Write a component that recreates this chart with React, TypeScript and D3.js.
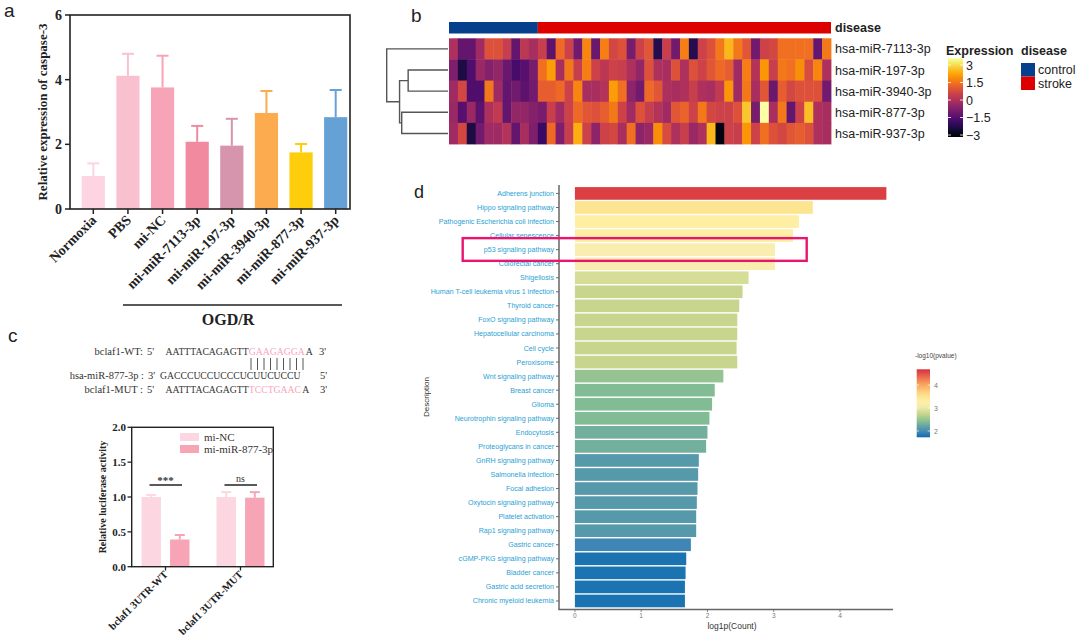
import React from 'react';
import * as d3 from 'd3';

const SERIF = '"Liberation Serif", "Times New Roman", serif';
const SANS = '"Liberation Sans", Arial, sans-serif';

// ---------- Panel a ----------
const caspCategories = ['Normoxia', 'PBS', 'mi-NC', 'mi-miR-7113-3p', 'mi-miR-197-3p', 'mi-miR-3940-3p', 'mi-miR-877-3p', 'mi-miR-937-3p'];
const caspMeans = [1.02, 4.12, 3.76, 2.08, 1.96, 2.97, 1.75, 2.84];
const caspErrTops = [1.41, 4.8, 4.74, 2.57, 2.79, 3.65, 2.01, 3.68];
const caspColors = ['#fdd5e2', '#f9c1d0', '#f7a4b8', '#f28a9f', '#d794ad', '#fcab4f', '#fecd0b', '#65a1d5'];
const caspTicks = [0, 2, 4, 6];

// ---------- Panel b ----------
const hmRows = ['hsa-miR-7113-3p', 'hsa-miR-197-3p', 'hsa-miR-3940-3p', 'hsa-miR-877-3p', 'hsa-miR-937-3p'];
const diseaseGroups = ['control', 'stroke'];
const diseaseCounts = [10, 33];
const diseaseColors = ['#063f8c', '#dd0000'];
const hmValues = [
  [-0.2, -1.3, -1.3, -0.4, 0.6, 0.6, 0.2, -1.3, 0.0, -0.3,
    0.2, -1.4, 1.0, 0.3, -1.1, 1.4, -1.2, 1.3, 0.4, 0.6, -1.0, 0.3, 0.7, -2.2, 0.2, -1.1, 1.3, -2.2, 0.3, 0.6, 1.2, 2.0, 1.2, 0.7, -1.1, 0.3, 0.4, 1.1, 1.1, 1.1, 1.1, -1.3, 1.2],
  [-0.9, -2.3, -1.6, -0.5, -0.8, -0.6, -1.2, -1.7, -1.5, -1.0,
    1.1, 1.7, -0.3, 1.2, 0.2, 1.3, 0.3, 0.0, 0.3, 0.2, -0.2, -0.6, 0.6, -0.2, -0.3, 0.6, -0.2, 0.6, 0.3, 0.7, 1.0, 0.8, -0.4, 1.3, -0.1, 1.6, 0.2, 1.2, 1.1, 1.5, 0.5, 1.4, -0.2],
  [-0.4, 0.4, -1.6, -1.6, 1.2, -0.4, -1.3, -1.1, -1.4, -1.1,
    0.8, 0.8, 1.0, 0.3, 1.4, -0.3, -0.3, -0.1, 1.7, 1.1, -0.7, -1.1, 1.0, 0.7, -0.2, -0.3, -0.2, 0.2, -0.2, -0.3, 0.1, 1.6, -0.4, 1.2, -0.3, 0.7, -1.2, 0.8, 0.4, 0.6, 0.6, 0.6, -1.1],
  [-0.5, -1.5, -0.5, -1.4, -0.2, 0.1, -1.3, -0.6, -0.6, -0.8,
    -1.0, 0.2, -0.4, 0.3, 1.0, 0.7, 0.6, 0.8, 1.2, 0.3, -0.4, 0.6, 0.2, -0.1, -0.4, 0.7, 0.9, 0.3, 1.2, 0.4, 0.3, 0.3, 0.6, 2.2, -1.0, 3.0, -0.3, 1.2, -1.3, 0.3, 2.1, -0.2, -0.3],
  [-0.4, 0.4, -2.3, -1.1, -0.4, -0.4, -0.1, -1.3, -0.3, -0.9,
    -1.9, 1.0, -0.9, 0.2, 1.9, 0.3, -0.7, 0.3, 0.4, -0.3, 1.1, -0.7, -0.5, 1.5, 0.5, -0.2, 0.2, -0.5, -0.2, 2.0, -2.8, 0.3, 0.2, 1.6, 0.3, 1.1, 0.6, 0.4, 0.7, 0.8, 0.6, -0.2, -0.3],
];
const exprTicks = [3, 1.5, 0, -1.5, -3];
// dendrogram merges: [left, right, height]; leaves are row indices, clusters are 'c0'.. in order
const dendroMerges: [string, string, number][] = [
  ['1', '2', 0.65],
  ['3', '4', 0.755],
  ['c0', 'c1', 0.79],
  ['0', 'c2', 1.0],
];

// ---------- Panel c ----------
const seqWtPrefix = 'AATTTACAGAGTT';
const seqWtSite = 'GAAGAGGA';
const seqMutSite = 'TCCTGAAC';
const seqSuffix = 'A';
const seqMiR = 'GACCCUCCUCCCUCUUCUCCU';
const lucGroups = ['bclaf1 3UTR-WT', 'bclaf1 3UTR-MUT'];
const lucSeries = ['mi-NC', 'mi-miR-877-3p'];
const lucColors = ['#fcd6e1', '#f7a4b7'];
const lucMeans = [[1.0, 0.39], [1.0, 0.99]];
const lucErrTops = [[1.03, 0.455], [1.07, 1.07]];
const lucTicks = [0, 0.5, 1.0, 1.5, 2.0];
const lucSig = ['***', 'ns'];

// ---------- Panel d ----------
const keggTerms = [
  'Adherens junction', 'Hippo signaling pathway', 'Pathogenic Escherichia coli infection', 'Cellular senescence',
  'p53 signaling pathway', 'Colorectal cancer', 'Shigellosis', 'Human T-cell leukemia virus 1 infection',
  'Thyroid cancer', 'FoxO signaling pathway', 'Hepatocellular carcinoma', 'Cell cycle', 'Peroxisome',
  'Wnt signaling pathway', 'Breast cancer', 'Glioma', 'Neurotrophin signaling pathway', 'Endocytosis',
  'Proteoglycans in cancer', 'GnRH signaling pathway', 'Salmonella infection', 'Focal adhesion',
  'Oxytocin signaling pathway', 'Platelet activation', 'Rap1 signaling pathway', 'Gastric cancer',
  'cGMP-PKG signaling pathway', 'Bladder cancer', 'Gastric acid secretion', 'Chronic myeloid leukemia',
];
const keggLog1pCount = [4.7, 3.59, 3.38, 3.29, 3.02, 3.02, 2.62, 2.53, 2.48, 2.45, 2.45, 2.44, 2.45, 2.24, 2.11, 2.07, 2.03, 2.0, 1.98, 1.87, 1.86, 1.85, 1.84, 1.83, 1.83, 1.75, 1.68, 1.67, 1.66, 1.66];
const keggNegLogP = [4.6, 3.5, 3.3, 3.3, 3.12, 3.12, 2.85, 2.75, 2.75, 2.75, 2.75, 2.75, 2.75, 2.5, 2.4, 2.4, 2.4, 2.3, 2.3, 2.12, 2.12, 2.12, 2.12, 2.12, 2.12, 1.95, 1.8, 1.8, 1.8, 1.8];
const keggXTicks = [0, 1, 2, 3, 4];
const keggLegendTicks = [2, 3, 4];
const keggHighlight = 'p53 signaling pathway';

export default function App() {
  // ---- a
  const aY = d3.scaleLinear().domain([0, 6]).range([209, 15]);
  const aX = d3.scaleBand<string>().domain(caspCategories).range([76, 353]).paddingInner(0.33).paddingOuter(0.165);

  // ---- b
  const nCols = d3.sum(diseaseCounts);
  const colIdx = d3.range(nCols);
  const hX = d3.scaleBand<number>().domain(colIdx).range([449, 831]);
  const hY = d3.scaleBand<string>().domain(hmRows).range([38.3, 144]);
  const exprColor = (v: number) => d3.interpolateInferno((v + 3) / 6);
  const legY = d3.scaleLinear().domain([3, -3]).range([65, 135]);
  const dX = d3.scaleLinear().domain([0, 1]).range([448, 386.7]);
  const nodes: Record<string, { y: number; h: number }> = {};
  hmRows.forEach((r, i) => { nodes[String(i)] = { y: (hY(r) as number) + hY.bandwidth() / 2, h: 0 }; });
  const dendroPaths: string[] = [];
  dendroMerges.forEach(([l, r, h], i) => {
    const a = nodes[l], b = nodes[r];
    dendroPaths.push(`M${dX(a.h)},${a.y}H${dX(h)}V${b.y}H${dX(b.h)}`);
    nodes['c' + i] = { y: (a.y + b.y) / 2, h };
  });
  const colStarts: number[] = [];
  diseaseCounts.reduce((acc, c) => { colStarts.push(acc); return acc + c; }, 0);

  // ---- c
  const cY = d3.scaleLinear().domain([0, 2]).range([566.7, 427.3]);
  const cX = d3.scaleBand<string>().domain(lucGroups).range([128, 278]);
  const cSub = d3.scaleBand<string>().domain(lucSeries).range([13.5, 61.5]).paddingInner(0.32).paddingOuter(0);
  const SEQ = 9.7;

  // ---- d
  const kX = d3.scaleLinear().domain([-0.24, 4.8]).range([559, 893]);
  const kY = d3.scalePoint<string>().domain(keggTerms).range([185, 609.4]).padding(0.6);
  const kStep = kY.step();
  const kColor = d3.scaleLinear<string>()
    .domain([1.73, 1.95, 2.15, 2.4, 2.75, 3.1, 3.3, 3.6, 4.1, 4.68])
    .range(['#0a6aae', '#3f86b6', '#5a9ca9', '#82bc94', '#c8d68d', '#f8eeb0', '#feefa4', '#fddf88', '#f7985a', '#d6303f'])
    .clamp(true);
  const kLeg = d3.scaleLinear().domain([2, 4]).range([431, 385]);
  const kLegStops = d3.range(0, 1.0001, 0.05).map(t => 1.73 + t * (4.68 - 1.73));
  const hi = (kY(keggHighlight) as number);

  return (
    <svg width={1080} height={637} style={{ position: 'absolute', left: 0, top: 0, background: '#fff' }}>
      <defs>
        <linearGradient id="exprGrad" x1="0" y1="1" x2="0" y2="0">
          {d3.range(0, 1.0001, 0.05).map(t => (
            <stop key={t} offset={t} stopColor={d3.interpolateInferno(t)} />
          ))}
        </linearGradient>
        <linearGradient id="keggGrad" x1="0" y1="1" x2="0" y2="0">
          {kLegStops.map((v, i) => (
            <stop key={i} offset={i / (kLegStops.length - 1)} stopColor={kColor(v)} />
          ))}
        </linearGradient>
      </defs>
      <rect width={1080} height={637} fill="#fff" />

      {/* ===== Panel a ===== */}
      <text x={4} y={17} fontFamily={SANS} fontSize={19} fill="#222">a</text>
      {caspCategories.map((c, i) => {
        const x = aX(c) as number;
        const bw = aX.bandwidth();
        const cx = x + bw / 2;
        return (
          <g key={c}>
            <line x1={cx} x2={cx} y1={aY(caspMeans[i])} y2={aY(caspErrTops[i])} stroke={caspColors[i]} strokeWidth={2} />
            <line x1={cx - 6} x2={cx + 6} y1={aY(caspErrTops[i])} y2={aY(caspErrTops[i])} stroke={caspColors[i]} strokeWidth={2} />
            <rect x={x} y={aY(caspMeans[i])} width={bw} height={aY(0) - aY(caspMeans[i])} fill={caspColors[i]} />
            <line x1={cx} x2={cx} y1={209} y2={214} stroke="#222" strokeWidth={1.5} />
            <text transform={`translate(${cx + 4},${221}) rotate(-45)`} textAnchor="end" fontFamily={SERIF} fontWeight="bold" fontSize={14} fill="#222">{c}</text>
          </g>
        );
      })}
      <rect x={70} y={15} width={280} height={194} fill="none" stroke="#222" strokeWidth={1.6} />
      {caspTicks.map(t => (
        <g key={t}>
          <line x1={65} x2={70} y1={aY(t)} y2={aY(t)} stroke="#222" strokeWidth={1.5} />
          <text x={62} y={aY(t) + 5} textAnchor="end" fontFamily={SERIF} fontWeight="bold" fontSize={14} fill="#222">{t}</text>
        </g>
      ))}
      <text transform={`translate(${47},${112}) rotate(-90)`} textAnchor="middle" fontFamily={SERIF} fontWeight="bold" fontSize={13} fill="#222">Relative expression of caspase-3</text>
      <line x1={123} x2={342} y1={305} y2={305} stroke="#222" strokeWidth={1.5} />
      <text x={228} y={325} textAnchor="middle" fontFamily={SERIF} fontWeight="bold" fontSize={16} fill="#222">OGD/R</text>

      {/* ===== Panel b ===== */}
      <text x={411} y={22} fontFamily={SANS} fontSize={19} fill="#222">b</text>
      {diseaseGroups.map((g, i) => {
        const x0 = hX(colStarts[i]) as number;
        const x1 = (hX(colStarts[i] + diseaseCounts[i] - 1) as number) + hX.bandwidth();
        return <rect key={g} x={x0} y={22} width={x1 - x0} height={11.5} fill={diseaseColors[i]} />;
      })}
      {hmRows.map((r, ri) => (
        <g key={r}>
          {colIdx.map(ci => (
            <rect key={ci} x={hX(ci)} y={hY(r)} width={hX.bandwidth() + 0.4} height={hY.bandwidth() + 0.4} fill={exprColor(hmValues[ri][ci])} />
          ))}
          <text x={835} y={(hY(r) as number) + hY.bandwidth() / 2 + 4.5} fontFamily={SANS} fontSize={12.5} fill="#222">{r}</text>
        </g>
      ))}
      <text x={835} y={32} fontFamily={SANS} fontWeight="bold" fontSize={12.5} fill="#222">disease</text>
      {dendroPaths.map((p, i) => <path key={i} d={p} fill="none" stroke="#555" strokeWidth={1.4} />)}
      {/* expression legend */}
      <text x={946} y={55} fontFamily={SANS} fontWeight="bold" fontSize={12.5} fill="#222">Expression</text>
      <rect x={948} y={58} width={15} height={79} fill="url(#exprGrad)" />
      {exprTicks.map(t => (
        <g key={t}>
          <line x1={948} x2={951} y1={legY(t)} y2={legY(t)} stroke="#fff" strokeWidth={0.8} />
          <line x1={960} x2={963} y1={legY(t)} y2={legY(t)} stroke="#fff" strokeWidth={0.8} />
          <text x={966} y={legY(t) + 4.5} fontFamily={SANS} fontSize={12.5} fill="#222">{t === 0 ? '0' : (t < 0 ? '\u2212' + Math.abs(t) : String(t))}</text>
        </g>
      ))}
      {/* disease legend */}
      <text x={1021} y={55} fontFamily={SANS} fontWeight="bold" fontSize={12.5} fill="#222">disease</text>
      {diseaseGroups.map((g, i) => (
        <g key={g}>
          <rect x={1021} y={63 + i * 13.5} width={14} height={13.5} fill={diseaseColors[i]} />
          <text x={1038} y={74 + i * 13.5} fontFamily={SANS} fontSize={12.5} fill="#222">{g}</text>
        </g>
      ))}

      {/* ===== Panel c ===== */}
      <text x={8} y={342} fontFamily={SANS} fontSize={19} fill="#222">c</text>
      <g fontFamily={SERIF} fill="#333">
        <text x={143} y={355} textAnchor="end" fontSize={10.5}>bclaf1-WT:</text>
        <text x={147} y={355} fontSize={10.5}>5'</text>
        <text x={165.5} y={355} fontSize={SEQ}>{seqWtPrefix}</text>
        <text x={248.8} y={355} fontSize={SEQ} fill="#f7a6bd">{seqWtSite}</text>
        <text x={305.8} y={355} fontSize={SEQ}>{seqSuffix}</text>
        <text x={319} y={355} fontSize={10.5}>3'</text>
        {d3.range(seqWtSite.length + 1).map(i => (
          <line key={i} x1={251 + i * 6.5} x2={251 + i * 6.5} y1={358} y2={370} stroke="#444" strokeWidth={0.9} />
        ))}
        <text x={144} y={379} textAnchor="end" fontSize={10.5}>hsa-miR-877-3p :</text>
        <text x={148} y={379} fontSize={10.5}>3'</text>
        <text x={160} y={379} fontSize={SEQ}>{seqMiR}</text>
        <text x={320} y={379} fontSize={10.5}>5'</text>
        <text x={143} y={393} textAnchor="end" fontSize={10.5}>bclaf1-MUT :</text>
        <text x={147} y={393} fontSize={10.5}>5'</text>
        <text x={165.5} y={393} fontSize={SEQ}>{seqWtPrefix}</text>
        <text x={248.8} y={393} fontSize={SEQ} fill="#f7a6bd">{seqMutSite}</text>
        <text x={302.3} y={393} fontSize={SEQ}>{seqSuffix}</text>
        <text x={320} y={393} fontSize={10.5}>3'</text>
      </g>
      {lucGroups.map((g, gi) => {
        const gx = cX(g) as number;
        const gc = gx + cX.bandwidth() / 2;
        return (
          <g key={g}>
            {lucSeries.map((s, si) => {
              const x = gx + (cSub(s) as number);
              const bw = cSub.bandwidth();
              const cx = x + bw / 2;
              return (
                <g key={s}>
                  <line x1={cx} x2={cx} y1={cY(lucMeans[gi][si])} y2={cY(lucErrTops[gi][si])} stroke={lucColors[si]} strokeWidth={2} />
                  <line x1={cx - 5} x2={cx + 5} y1={cY(lucErrTops[gi][si])} y2={cY(lucErrTops[gi][si])} stroke={lucColors[si]} strokeWidth={2} />
                  <rect x={x} y={cY(lucMeans[gi][si])} width={bw} height={cY(0) - cY(lucMeans[gi][si])} fill={lucColors[si]} />
                </g>
              );
            })}
            <line x1={gc - 16} x2={gc + 16.5} y1={485} y2={485} stroke="#222" strokeWidth={1.3} />
            <text x={gc} y={gi === 0 ? 484 : 482} textAnchor="middle" fontFamily={SERIF} fontSize={gi === 0 ? 11 : 10} fontWeight={gi === 0 ? 'bold' : 'normal'} fill="#333">{lucSig[gi]}</text>
            <line x1={gc} x2={gc} y1={566.7} y2={570.5} stroke="#222" strokeWidth={1.3} />
            <text transform={`translate(${gc + 3},${575}) rotate(-45)`} textAnchor="end" fontFamily={SERIF} fontWeight="bold" fontSize={10.5} fill="#222">{g}</text>
          </g>
        );
      })}
      <rect x={131.7} y={427.3} width={141.6} height={139.4} fill="none" stroke="#222" strokeWidth={1.4} />
      {lucTicks.map(t => (
        <g key={t}>
          <line x1={127.5} x2={131.7} y1={cY(t)} y2={cY(t)} stroke="#222" strokeWidth={1.3} />
          <text x={126} y={cY(t) + 4} textAnchor="end" fontFamily={SERIF} fontWeight="bold" fontSize={11} fill="#222">{t.toFixed(1)}</text>
        </g>
      ))}
      <text transform={`translate(${106},${497}) rotate(-90)`} textAnchor="middle" fontFamily={SERIF} fontWeight="bold" fontSize={10} fill="#222">Relative luciferase activity</text>
      {lucSeries.map((s, si) => (
        <g key={s}>
          <rect x={180} y={433 + si * 12} width={19} height={8} fill={lucColors[si]} />
          <text x={204} y={441 + si * 12} fontFamily={SERIF} fontSize={11} fill="#333">{s}</text>
        </g>
      ))}

      {/* ===== Panel d ===== */}
      <text x={414} y={198} fontFamily={SANS} fontSize={18} fill="#222">d</text>
      {keggTerms.map((t, i) => {
        const y = kY(t) as number;
        return (
          <g key={t}>
            <rect x={kX(0)} y={y - kStep * 0.45} width={kX(keggLog1pCount[i]) - kX(0)} height={kStep * 0.9} fill={kColor(keggNegLogP[i])} />
            <line x1={556} x2={559} y1={y} y2={y} stroke="#444" strokeWidth={0.8} />
            <text x={554} y={y + 2.5} textAnchor="end" fontFamily={SANS} fontSize={7.1} fill="#2a9fd4">{t}</text>
          </g>
        );
      })}
      <line x1={559} x2={559} y1={185} y2={609.4} stroke="#666" strokeWidth={1.5} />
      <line x1={558.3} x2={893} y1={609.4} y2={609.4} stroke="#666" strokeWidth={1.5} />
      {keggXTicks.map(t => (
        <g key={t}>
          <line x1={kX(t)} x2={kX(t)} y1={609.4} y2={612} stroke="#666" strokeWidth={0.8} />
          <text x={kX(t)} y={618} textAnchor="middle" fontFamily={SANS} fontSize={6.5} fill="#777">{t}</text>
        </g>
      ))}
      <text x={732} y={629} textAnchor="middle" fontFamily={SANS} fontSize={8.5} fill="#333">log1p(Count)</text>
      <text transform={`translate(${429},${397}) rotate(-90)`} textAnchor="middle" fontFamily={SANS} fontSize={8} fill="#333">Description</text>
      <rect x={462.7} y={hi - 11.5} width={344} height={22.7} fill="none" stroke="#e8166f" strokeWidth={2.4} />
      <text x={915} y={358} fontFamily={SANS} fontSize={6.5} fill="#444">-log10(pvalue)</text>
      <rect x={916.7} y={369.3} width={13.3} height={68} fill="url(#keggGrad)" />
      {keggLegendTicks.map(t => (
        <g key={t}>
          <line x1={916.7} x2={919} y1={kLeg(t)} y2={kLeg(t)} stroke="#fff" strokeWidth={0.7} />
          <line x1={927.7} x2={930} y1={kLeg(t)} y2={kLeg(t)} stroke="#fff" strokeWidth={0.7} />
          <text x={934} y={kLeg(t) + 2.5} fontFamily={SANS} fontSize={7} fill="#777">{t}</text>
        </g>
      ))}
    </svg>
  );
}
